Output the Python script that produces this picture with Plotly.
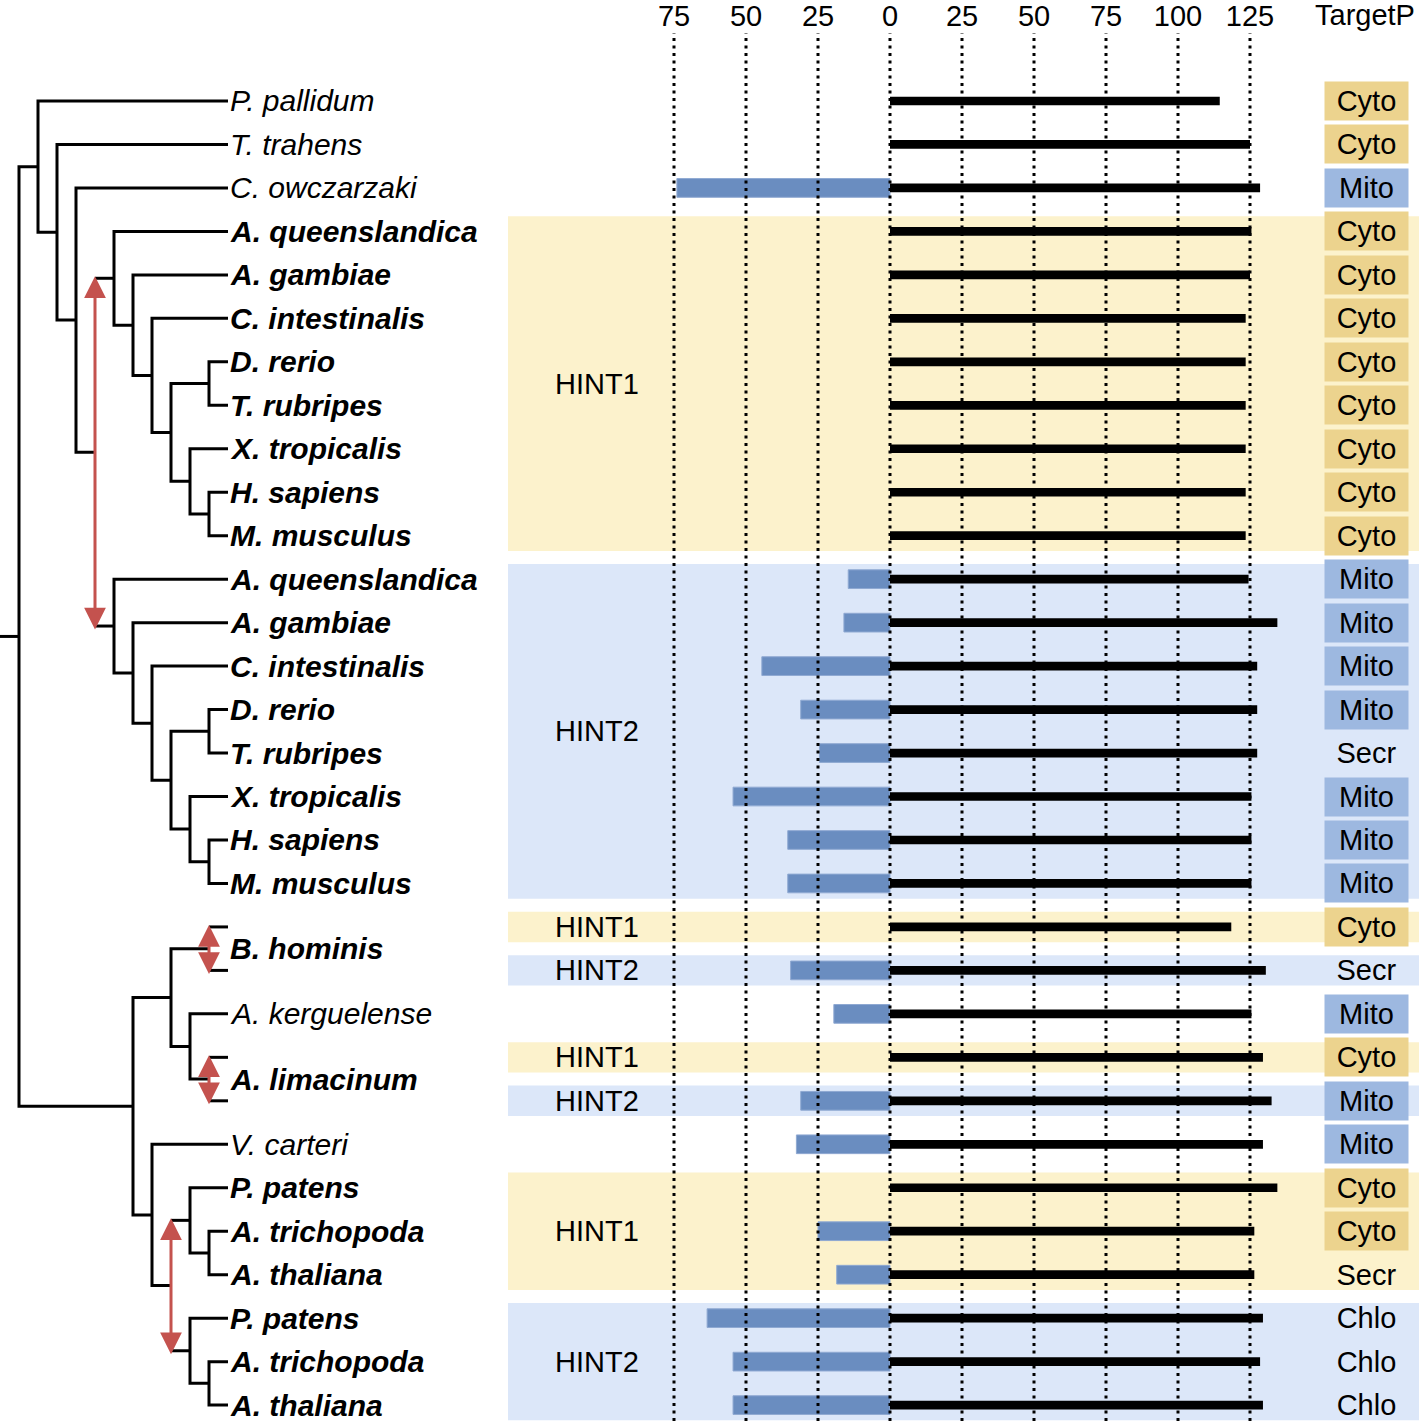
import plotly.graph_objects as go

# ---------------- data ----------------
SPECIES = [
    "P. pallidum", "T. trahens", "C. owczarzaki",
    "A. queenslandica", "A. gambiae", "C. intestinalis", "D. rerio", "T. rubripes",
    "X. tropicalis", "H. sapiens", "M. musculus",
    "A. queenslandica", "A. gambiae", "C. intestinalis", "D. rerio", "T. rubripes",
    "X. tropicalis", "H. sapiens", "M. musculus",
    "B. hominis", "B. hominis", "A. kerguelense", "A. limacinum", "A. limacinum", "V. carteri",
    "P. patens", "A. trichopoda", "A. thaliana",
    "P. patens", "A. trichopoda", "A. thaliana",
]
BOLD = [False, False, False] + [True] * 16 + [True, True, False, True, True, False] + [True] * 6
PARALOG = ([None, None, None] + ["HINT1"] * 8 + ["HINT2"] * 8 +
           ["HINT1", "HINT2", None, "HINT1", "HINT2", None] + ["HINT1"] * 3 + ["HINT2"] * 3)
# length of the N-terminal extension (plotted to the left)
EXTENSION = [0, 0, 74, 0, 0, 0, 0, 0, 0, 0, 0,
             14.5, 16, 44.5, 31, 24.5, 54.5, 35.5, 35.5,
             0, 34.5, 19.5, 0, 31, 32.5,
             0, 25, 18.5, 63.5, 54.5, 54.5]
# length of the HIT domain part (plotted to the right)
CORE = [114.5, 125, 128.5, 125.5, 125, 123.5, 123.5, 123.5, 123.5, 123.5, 123.5,
        124.5, 134.5, 127.5, 127.5, 127.5, 125.5, 125.5, 125.5,
        118.5, 130.5, 125.5, 129.5, 132.5, 129.5,
        134.5, 126.5, 126.5, 129.5, 128.5, 129.5]
TARGETP = ["Cyto", "Cyto", "Mito"] + ["Cyto"] * 8 + \
          ["Mito", "Mito", "Mito", "Mito", "Secr", "Mito", "Mito", "Mito"] + \
          ["Cyto", "Secr", "Mito", "Cyto", "Mito", "Mito", "Cyto", "Cyto", "Secr", "Chlo", "Chlo", "Chlo"]
TICK_VALUES = [-75, -50, -25, 0, 25, 50, 75, 100, 125]
TICK_TEXT = ["75", "50", "25", "0", "25", "50", "75", "100", "125"]

# tree topology: (depth level, duplication?, children); leaves are row indices
TREE = (1, False, [
    (2, False, [0, (3, False, [1, (4, False, [2, (5, True, [
        (6, False, [3, (7, False, [4, (8, False, [5, (9, False, [
            (11, False, [6, 7]), (10, False, [8, (11, False, [9, 10])])])])])]),
        (6, False, [11, (7, False, [12, (8, False, [13, (9, False, [
            (11, False, [14, 15]), (10, False, [16, (11, False, [17, 18])])])])])]),
    ])])])]),
    (7, False, [
        (9, False, [(11, True, [19, 20]), (10, False, [21, (11, True, [22, 23])])]),
        (8, False, [24, (9, True, [
            (10, False, [25, (11, False, [26, 27])]),
            (10, False, [28, (11, False, [29, 30])])])]),
    ]),
])
LEAF_DEPTH = 12

# ---------------- styling ----------------
FONT = "Liberation Sans, Arial, Helvetica, sans-serif"
RED = "#C4524E"
BAR_BLUE = "#6A8DC0"
BAND_COLORS = {"HINT1": "#FCF2CC", "HINT2": "#DCE7F9"}
TP_COLORS = {"Cyto": "#ECD38E", "Mito": "#9DB8E0", "Secr": "rgba(0,0,0,0)", "Chlo": "rgba(0,0,0,0)"}

n = len(SPECIES)
rows = list(range(n))

fig = go.Figure()

# ---------------- bars ----------------
ext_rows = [r for r in rows if EXTENSION[r] > 0]
fig.add_trace(go.Bar(
    orientation="h", y=ext_rows, x=[-EXTENSION[r] for r in ext_rows], base=0,
    width=0.43, marker=dict(color=BAR_BLUE, line=dict(color="#8FA9D2", width=1)),
    xaxis="x", yaxis="y", hoverinfo="skip"))
fig.add_trace(go.Bar(
    orientation="h", y=rows, x=CORE, base=0, width=0.2,
    marker=dict(color="black", line=dict(width=0)),
    xaxis="x", yaxis="y", hoverinfo="skip"))

# ---------------- tree ----------------
tx, ty = [], []
arrows = []


def walk(node):
    if isinstance(node, int):
        return LEAF_DEPTH, float(node)
    depth, dup, children = node
    pts = [walk(c) for c in children]
    pts.sort(key=lambda p: p[1])
    if dup:
        for cx, cy in pts:
            tx.extend([depth, cx, None])
            ty.extend([cy, cy, None])
        arrows.append((depth, pts[0][1], pts[-1][1]))
    else:
        (cx0, cy0), (cx1, cy1) = pts[0], pts[-1]
        tx.extend([cx0, depth, depth, cx1, None])
        ty.extend([cy0, cy0, cy1, cy1, None])
        for cx, cy in pts[1:-1]:
            tx.extend([depth, cx, None])
            ty.extend([cy, cy, None])
    return depth, (pts[0][1] + pts[-1][1]) / 2


root_depth, root_y = walk(TREE)
tx.extend([0, root_depth, None])
ty.extend([root_y, root_y, None])

fig.add_trace(go.Scatter(x=tx, y=ty, mode="lines", line=dict(color="black", width=3),
                         xaxis="x2", yaxis="y", hoverinfo="skip"))

annotations = []
for d, y0, y1 in arrows:
    annotations.append(dict(
        x=d, y=y1 + 0.08, ax=d, ay=y0 - 0.08, xref="x2", yref="y", axref="x2", ayref="y",
        text="", showarrow=True, arrowside="end+start", arrowhead=2, startarrowhead=2,
        arrowsize=1.45, startarrowsize=1.45, arrowwidth=3, arrowcolor=RED,
        standoff=0, startstandoff=0))

# ---------------- species labels ----------------
i = 0
while i < n:
    j = i
    while j + 1 < n and SPECIES[j + 1] == SPECIES[i]:
        j += 1
    txt = "<i>%s</i>" % SPECIES[i]
    if BOLD[i]:
        txt = "<b>%s</b>" % txt
    annotations.append(dict(x=12.0, y=(i + j) / 2, xref="x2", yref="y", text=txt,
                            showarrow=False, xanchor="left", yanchor="middle",
                            font=dict(size=30, color="black", family=FONT)))
    i = j + 1

# ---------------- paralog bands ----------------
shapes = []
i = 0
while i < n:
    if PARALOG[i] is None:
        i += 1
        continue
    j = i
    while j + 1 < n and PARALOG[j + 1] == PARALOG[i]:
        j += 1
    shapes.append(dict(type="rect", xref="paper", yref="y", x0=508 / 1419, x1=1.0,
                       y0=i - 0.35, y1=j + 0.35, fillcolor=BAND_COLORS[PARALOG[i]],
                       line=dict(width=0), layer="below"))
    annotations.append(dict(x=597 / 1419, y=(i + j) / 2, xref="paper", yref="y",
                            text=PARALOG[i], showarrow=False, xanchor="center",
                            font=dict(size=29, color="black", family=FONT)))
    i = j + 1

# ---------------- dotted grid lines (above bars) ----------------
for v in TICK_VALUES:
    shapes.append(dict(type="line", xref="x", yref="y domain", x0=v, x1=v, y0=0, y1=1,
                       line=dict(color="black", width=3, dash="3px,4.5px"), layer="above"))

# ---------------- TargetP column ----------------
for r in rows:
    annotations.append(dict(x=1366.5 / 1419, y=r, xref="paper", yref="y", text=TARGETP[r],
                            showarrow=False, xanchor="center", yanchor="middle",
                            width=83, height=38, borderpad=0, bgcolor=TP_COLORS[TARGETP[r]],
                            font=dict(size=29, color="black", family=FONT)))
annotations.append(dict(x=1313 / 1419, y=1 - 15 / 1421, xref="paper", yref="paper",
                        text="TargetP", showarrow=False, xanchor="left", yanchor="middle",
                        font=dict(size=29, color="black", family=FONT)))

# ---------------- layout ----------------
row_px = 43.47
top_px = 33
y_top = (top_px - 101) / row_px
y_bot = (1421 - 101) / row_px
px_per_unit = 2.88
x_left = (0 - 890) / px_per_unit
x_right = (1419 - 890) / px_per_unit

fig.update_layout(
    width=1419, height=1421, margin=dict(l=0, r=0, t=0, b=0),
    paper_bgcolor="white", plot_bgcolor="rgba(0,0,0,0)",
    showlegend=False, barmode="overlay",
    font=dict(family=FONT, color="black"),
    xaxis=dict(range=[x_left, x_right], domain=[0, 1], side="top", anchor="y",
               tickmode="array", tickvals=TICK_VALUES, ticktext=TICK_TEXT,
               showgrid=False, zeroline=False, showline=False, ticks="",
               tickfont=dict(size=29, family=FONT, color="black"), automargin=False),
    xaxis2=dict(range=[0, 1419 / 19], domain=[0, 1], overlaying="x", anchor="y",
                visible=False),
    yaxis=dict(range=[y_bot, y_top], domain=[0, 1 - top_px / 1421], visible=False,
               automargin=False),
    shapes=shapes, annotations=annotations,
)

fig.write_html("out.html", config={"displayModeBar": False},
               post_script="document.body.style.margin='0px';document.body.style.overflow='hidden';")
